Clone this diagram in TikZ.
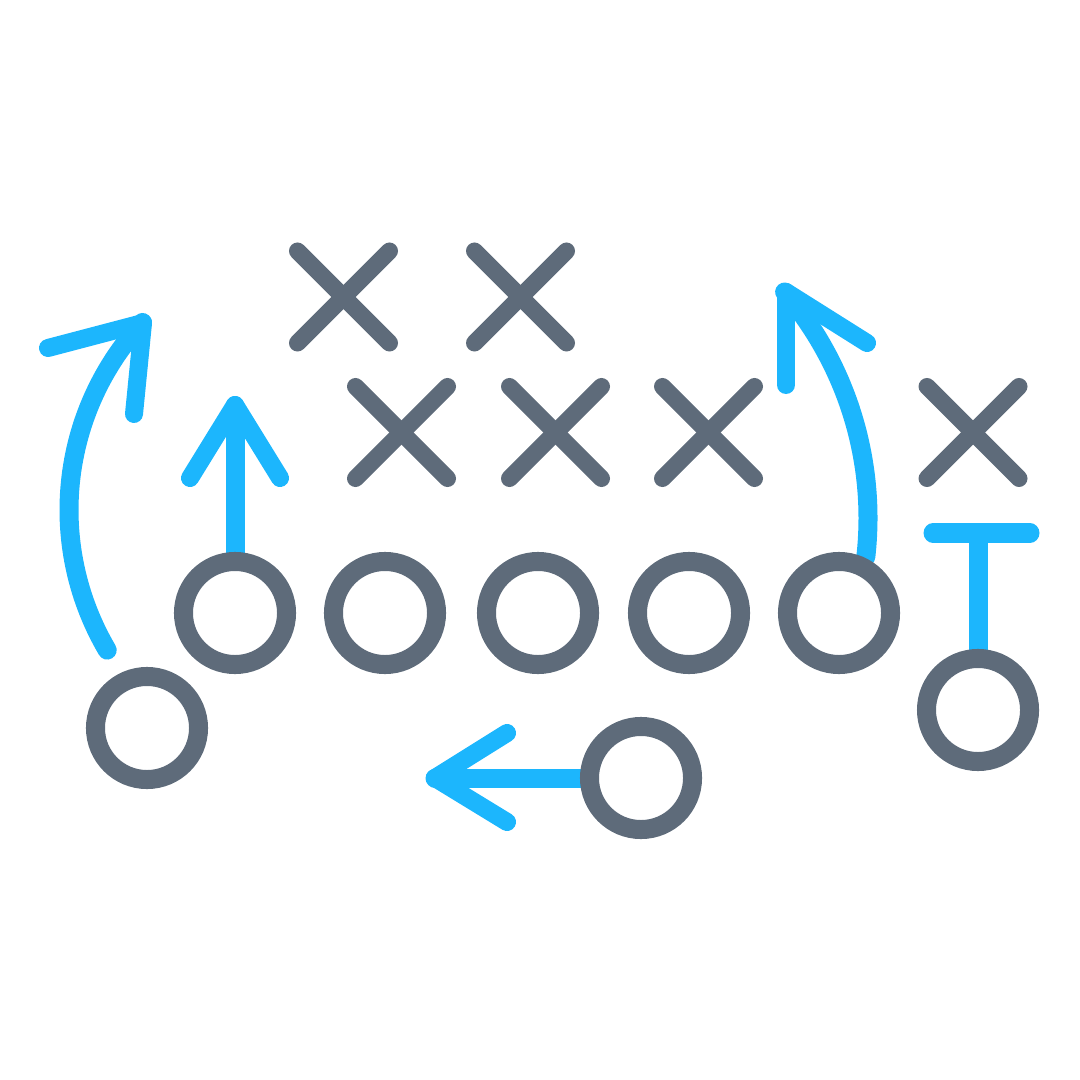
\documentclass[tikz,border=0pt]{standalone}
\definecolor{slate}{HTML}{5E6B7A}
\definecolor{sky}{HTML}{1CB6FD}
\begin{document}
\begin{tikzpicture}[x=0.01cm,y=-0.01cm,
  player/.style={circle, draw=slate, line width=0.19cm, fill=white, minimum size=1.03cm, inner sep=0pt},
  xline/.style={draw=slate, line width=0.17cm, line cap=round},
  route/.style={draw=sky, line width=0.19cm, line cap=round, line join=round},
  head/.style={draw=sky, line width=0.18cm, line cap=round}]
\useasboundingbox (0,0) rectangle (1080,1080);

% coordinates of players
\coordinate (c1) at (235,613);
\coordinate (c2) at (385,613);
\coordinate (c3) at (538,613);
\coordinate (c4) at (689,613);
\coordinate (c5) at (839,613);
\coordinate (c6) at (147,728);
\coordinate (c7) at (641,778);
\coordinate (c8) at (978,710);

% routes
\coordinate (t1) at (235,405);
\draw[route] (c1) -- (235,412);
\draw[head] (t1) -- (190,478);
\draw[head] (t1) -- (280,478);

\coordinate (t2) at (143,323);
\draw[route] plot[domain=149.5:222.8, samples=60] ({345+276*cos(\x)},{510+276*sin(\x)});
\draw[head] (t2) -- (48,348);
\draw[head] (t2) -- (134,414);

\coordinate (t3) at (786,292);
\draw[route] plot[domain=6.4:-40.5, samples=60] ({520+348*cos(\x)},{518+348*sin(\x)});
\draw[head] (t3) -- (786,385);
\draw[head] (t3) -- (867,343);

\coordinate (t4) at (435,778);
\draw[route] (c7) -- (t4);
\draw[head] (t4) -- (507,733);
\draw[head] (t4) -- (507,822);

\coordinate (tb) at (978,533);
\draw[route] (c8) -- (tb);
\draw[route] (933,533) -- (1030,533);

% players
\foreach \c in {c1,c2,c3,c4,c5,c6,c7,c8}
  \node[player] (n\c) at (\c) {};

% defenders
\foreach \x/\y [count=\i] in {343.5/297, 520.5/297, 401.5/432.5, 555.5/432.5, 708.5/432.5, 973/432.5}{
  \coordinate (d\i) at (\x,\y);
  \draw[xline] ([shift={(-46,-46)}]d\i) -- ([shift={(46,46)}]d\i);
  \draw[xline] ([shift={(46,-46)}]d\i) -- ([shift={(-46,46)}]d\i);
}
\end{tikzpicture}
\end{document}
